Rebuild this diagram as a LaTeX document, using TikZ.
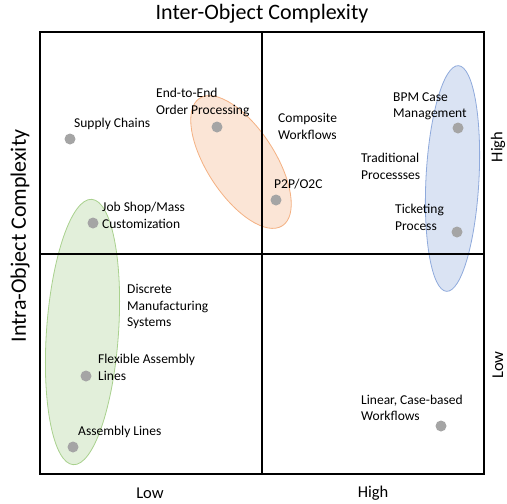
\documentclass[tikz,border=0pt]{standalone}
\usepackage{fontspec}
\setmainfont{Carlito}
\usetikzlibrary{positioning}

\definecolor{grnfill}{HTML}{E2EFDA}
\definecolor{grnline}{HTML}{A9D18E}
\definecolor{orgfill}{HTML}{FBE5D6}
\definecolor{orgline}{HTML}{F4B183}
\definecolor{blufill}{HTML}{DAE3F3}
\definecolor{bluline}{HTML}{8FAADC}
\definecolor{dotgray}{HTML}{A5A5A5}

\begin{document}
\begin{tikzpicture}[
  x=1pt, y=-1pt,
  pdot/.style={circle, fill=dotgray, minimum size=11pt, inner sep=0pt},
  plbl/.style={font=\fontsize{13.5}{16.5}\selectfont, align=left, anchor=west, inner sep=0pt},
  axlbl/.style={font=\fontsize{16.5}{20}\selectfont, inner sep=0pt},
  ttl/.style={font=\fontsize{22}{26}\selectfont, inner sep=0pt},
  blob/.style={line width=0.8pt},
  grid/.style={line width=1.4pt},
]
  \useasboundingbox (0,0) rectangle (507,504);

  % Groupings behind everything
  \draw[blob, draw=grnline, fill=grnfill, rotate around={-4:(82.5,332)}]
    (82.5,332) ellipse [x radius=36, y radius=133];
  \draw[blob, draw=orgline, fill=orgfill, rotate around={33:(241,162)}]
    (241,162) ellipse [x radius=34, y radius=76];
  \draw[blob, draw=bluline, fill=blufill, rotate around={-3:(452.5,178.5)}]
    (452.5,178.5) ellipse [x radius=26.5, y radius=113];

  % Quadrant frame
  \draw[grid] (40,32) rectangle (484,474);
  \draw[grid] (262,32) -- (262,474);
  \draw[grid] (40,254) -- (484,254);

  % Axis titles and levels
  \node[ttl] (XT) at (262,14) {Inter-Object Complexity};
  \node[ttl, rotate=90] (YT) at (20,236) {Intra-Object Complexity};
  \node[axlbl] (XL) at (150,493) {Low};
  \node[axlbl] (XH) at (373,493) {High};
  \node[axlbl, rotate=90] (YH) at (498,147) {High};
  \node[axlbl, rotate=90] (YL) at (498,365) {Low};

  % Points
  \node[pdot] (SC)  at (70,139)  {};
  \node[pdot] (E2E) at (217,127) {};
  \node[pdot] (JS)  at (93,223)  {};
  \node[pdot] (P2P) at (276,200) {};
  \node[pdot] (BPM) at (458,128) {};
  \node[pdot] (TK)  at (457,232) {};
  \node[pdot] (FA)  at (86,376)  {};
  \node[pdot] (AL)  at (73,447)  {};
  \node[pdot] (LW)  at (441,426) {};

  % Labels
  \node[plbl] (SCt)  at (74,124)    {Supply Chains};
  \node[plbl] (E2Et) at (156,102.5) {End-to-End\\Order Processing};
  \node[plbl] (JSt)  at (102,215.5) {Job Shop/Mass\\Customization};
  \node[plbl] (P2Pt) at (274,184)   {P2P/O2C};
  \node[plbl] (CWt)  at (278,126.5) {Composite\\Workflows};
  \node[plbl] (BPMt) at (393,106.5) {BPM Case\\Management};
  \node[plbl] (TPt)  at (361,166.5) {Traditional\\Processses};
  \node[plbl] (TKt)  at (395,217.5) {Ticketing\\Process};
  \node[plbl] (DMt)  at (127,306.5) {Discrete\\Manufacturing\\Systems};
  \node[plbl] (FAt)  at (98,367.5)  {Flexible Assembly\\Lines};
  \node[plbl] (ALt)  at (78,432)    {Assembly Lines};
  \node[plbl] (LWt)  at (361,408)   {Linear, Case-based\\Workflows};
\end{tikzpicture}
\end{document}
